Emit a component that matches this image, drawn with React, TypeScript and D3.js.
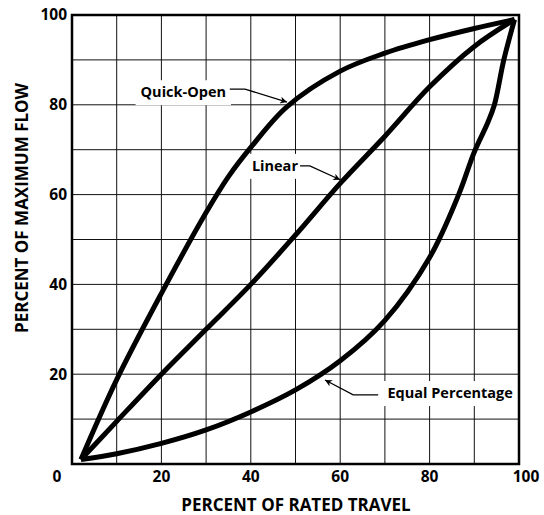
import React, { useEffect, useRef } from "react";
import * as d3 from "d3";

// ---- data (percent of rated travel -> percent of maximum flow) ----
const quickOpenTravel = [2, 10, 20, 30, 35, 40, 48, 60, 70, 80, 90, 99];
const quickOpenFlow = [1, 18.8, 38, 56, 64, 70.5, 79.5, 87.5, 91.5, 94.5, 97, 99];

const linearTravel = [2, 10, 20, 30, 40, 50, 60, 70, 80, 90, 99];
const linearFlow = [1, 9.5, 20, 30, 40, 51, 62.5, 73, 84, 93, 99];

const eqTravel = [2, 10, 20, 30, 40, 50, 60, 70, 80, 86.5, 90, 93, 94.5, 96.6, 99];
const eqFlow = [1, 2.3, 4.6, 7.6, 11.6, 16.5, 23, 32, 46, 60, 69.5, 76, 80, 90, 99];

const xTicks = [0, 20, 40, 60, 80, 100];
const yTicks = [20, 40, 60, 80, 100];
const gridValues = [10, 20, 30, 40, 50, 60, 70, 80, 90];

const seriesNames = ["Quick-Open", "Linear", "Equal Percentage"];
// label centre (data coords) and leader polyline (data coords)
const labelX = [24.9, 45.4, 84.6];
const labelY = [82.8, 66.4, 15.8];
const leaderX = [
  [35.3, 38.7, 48.1],
  [51, 53.2, 60],
  [68.5, 62.9, 56.6],
];
const leaderY = [
  [83.5, 83.5, 80.6],
  [66.4, 66.4, 63.3],
  [15.4, 15.4, 18.7],
];

const xTitle = "PERCENT OF RATED TRAVEL";
const yTitle = "PERCENT OF MAXIMUM FLOW";

const W = 544;
const H = 515;
const FONT = "'Open Sans', 'Noto Sans', sans-serif";

export default function App() {
  const ref = useRef<SVGSVGElement | null>(null);

  useEffect(() => {
    const svg = d3.select(ref.current);
    svg.selectAll("*").remove();

    const x = d3.scaleLinear().domain([0, 100]).range([72, 519]);
    const y = d3.scaleLinear().domain([0, 100]).range([464, 15]);

    const defs = svg.append("defs");
    defs
      .append("marker")
      .attr("id", "arrow")
      .attr("viewBox", "0 0 10 10")
      .attr("refX", 10)
      .attr("refY", 5)
      .attr("markerWidth", 9)
      .attr("markerHeight", 7)
      .attr("markerUnits", "userSpaceOnUse")
      .attr("orient", "auto")
      .append("path")
      .attr("d", "M0,0 L10,5 L0,10 L3,5 Z")
      .attr("fill", "#000");

    // grid
    const g = svg.append("g");
    g.selectAll("line.vx")
      .data(gridValues)
      .join("line")
      .attr("x1", (d) => x(d))
      .attr("x2", (d) => x(d))
      .attr("y1", y(0))
      .attr("y2", y(100))
      .attr("stroke", "#111")
      .attr("stroke-width", 1);
    g.selectAll("line.hy")
      .data(gridValues)
      .join("line")
      .attr("y1", (d) => y(d))
      .attr("y2", (d) => y(d))
      .attr("x1", x(0))
      .attr("x2", x(100))
      .attr("stroke", "#111")
      .attr("stroke-width", 1);

    // label backgrounds + labels (measure first)
    const labelG = svg.append("g");
    const bgG = svg.insert("g", () => labelG.node());
    seriesNames.forEach((name, i) => {
      const t = labelG
        .append("text")
        .attr("x", x(labelX[i]))
        .attr("y", y(labelY[i]))
        .attr("dy", "0.35em")
        .attr("text-anchor", "middle")
        .attr("font-family", FONT)
        .attr("font-weight", 700)
        .attr("font-size", 14.5)
        .attr("fill", "#000")
        .text(name);
      const bb = (t.node() as SVGTextElement).getBBox();
      bgG
        .append("rect")
        .attr("x", bb.x - 5)
        .attr("y", y(labelY[i]) - 12)
        .attr("width", bb.width + 10)
        .attr("height", 25)
        .attr("fill", "#fff");
    });

    // frame
    svg
      .append("rect")
      .attr("x", x(0))
      .attr("y", y(100))
      .attr("width", x(100) - x(0))
      .attr("height", y(0) - y(100))
      .attr("fill", "none")
      .attr("stroke", "#000")
      .attr("stroke-width", 2.5);

    // curves
    const line = d3
      .line<[number, number]>()
      .x((d) => x(d[0]))
      .y((d) => y(d[1]))
      .curve(d3.curveCatmullRom.alpha(0.5));
    const series: [number[], number[]][] = [
      [quickOpenTravel, quickOpenFlow],
      [linearTravel, linearFlow],
      [eqTravel, eqFlow],
    ];
    series.forEach(([xs, ys]) => {
      const pts = xs.map((v, i) => [v, ys[i]] as [number, number]);
      svg
        .append("path")
        .attr("d", line(pts))
        .attr("fill", "none")
        .attr("stroke", "#000")
        .attr("stroke-width", 5)
        .attr("stroke-linejoin", "miter");
    });

    // leaders
    const leader = d3
      .line<[number, number]>()
      .x((d) => x(d[0]))
      .y((d) => y(d[1]));
    leaderX.forEach((xs, i) => {
      const pts = xs.map((v, j) => [v, leaderY[i][j]] as [number, number]);
      svg
        .append("path")
        .attr("d", leader(pts))
        .attr("fill", "none")
        .attr("stroke", "#000")
        .attr("stroke-width", 1.3)
        .attr("marker-end", "url(#arrow)");
    });

    // x tick labels
    svg
      .append("g")
      .selectAll("text")
      .data(xTicks)
      .join("text")
      .attr("x", (d) => x(d) + (d === 0 ? -15 : d === 100 ? 7 : 0))
      .attr("y", 482)
      .attr("text-anchor", "middle")
      .attr("font-family", FONT)
      .attr("font-weight", 700)
      .attr("font-size", 15.5)
      .text((d) => String(d));

    // y tick labels
    svg
      .append("g")
      .selectAll("text")
      .data(yTicks)
      .join("text")
      .attr("x", 67)
      .attr("y", (d) => y(d))
      .attr("dy", "0.35em")
      .attr("text-anchor", "end")
      .attr("font-family", FONT)
      .attr("font-weight", 700)
      .attr("font-size", 15.5)
      .text((d) => String(d));

    // axis titles
    svg
      .append("text")
      .attr("x", 296)
      .attr("y", 511)
      .attr("text-anchor", "middle")
      .attr("font-family", FONT)
      .attr("font-weight", 700)
      .attr("font-size", 17)
      .text(xTitle);
    svg
      .append("text")
      .attr("transform", "translate(28,208) rotate(-90)")
      .attr("text-anchor", "middle")
      .attr("font-family", FONT)
      .attr("font-weight", 700)
      .attr("font-size", 17)
      .text(yTitle);
  }, []);

  return (
    <svg
      ref={ref}
      width={W}
      height={H}
      style={{ position: "fixed", left: 0, top: 0, background: "#fff" }}
    />
  );
}
